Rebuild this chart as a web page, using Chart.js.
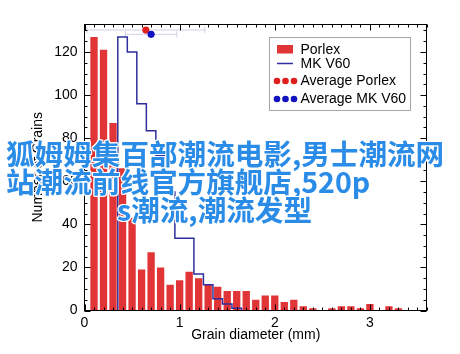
<!DOCTYPE html>
<html><head><meta charset="utf-8">
<script src="https://cdn.jsdelivr.net/npm/chart.js@4.4.0/dist/chart.umd.min.js"></script>
<style>
html,body{margin:0;padding:0;background:#fff;}
#wrap{position:relative;width:460px;height:354px;overflow:hidden;background:#fff;}
canvas{position:absolute;left:0;top:0;}
.wm{position:absolute;white-space:nowrap;font-family:"Noto Sans CJK SC";font-weight:bold;font-size:28.6px;line-height:29px;color:#2a8ce6;
text-shadow:#fff 1px 0 0,#fff -1px 0 0,#fff 0 1px 0,#fff 0 -1px 0,#fff 1px 1px 0,#fff -1px -1px 0,#fff 1px -1px 0,#fff -1px 1px 0;}
</style></head><body>
<div id="wrap">
<canvas id="c" width="460" height="354"></canvas>
<div class="wm" style="left:6px;top:138px">狐姆姆集百部潮流电影,男士潮流网</div>
<div class="wm" style="left:6px;top:166px">站潮流前线官方旗舰店,520p</div>
<div class="wm" style="left:117px;top:194px">s潮流,潮流发型</div>
</div>
<script>
// ---- data ----
const binWidth = 0.1;
const porlexCenters = [0.1,0.2,0.3,0.4,0.5,0.6,0.7,0.8,0.9,1.0,1.1,1.2,1.3,1.4,1.5,1.6,1.7,1.8,1.9,2.0,2.1,2.2,2.3,2.4,2.5,2.6,2.7,2.8,2.9,3.0,3.1,3.2,3.3,3.4];
const porlexCounts  = [127,121,87,66,43,19,27,20,12,14,18,15,12,11,9,9,9,5,7,7,4,5,2,1,0,1,2,2,1,3,0,2,1,0];
const mkCenters = [0.4,0.5,0.6,0.7,0.8,0.9,1.0,1.1,1.2,1.3,1.4,1.5,1.6];
const mkCounts  = [127,120,96,83.5,72,55,33.5,33.5,17,12,5.5,3,1];
const avgLabels = ['Average Porlex','Average MK V60'];
const avgX   = [0.645, 0.70];
const avgY   = [130.2, 128.2];
const avgErr = [0.62, 0.27];
const xTickLabels = [0,1,2,3];
const yTickLabels = [0,20,40,60,80,100,120];
const seriesNames = ['Porlex','MK V60'];

const RED = '#e03437', NAVY = '#2e2e9c', DOTRED = '#e01e1e', DOTBLUE = '#1212c0', ERRC = '#cfd0e4';
const FONT = '"Liberation Sans", Arial, sans-serif';

function stepPoints(centers, counts, w){
  const pts = [{x: centers[0]-w/2, y: 0}];
  centers.forEach((c,i)=>{ pts.push({x:c-w/2, y:counts[i]}); pts.push({x:c+w/2, y:counts[i]}); });
  pts.push({x: centers[centers.length-1]+w/2, y: 0});
  return pts;
}

const deco = {
  id: 'deco',
  beforeDatasetsDraw(chart){
    const ctx = chart.ctx, xs = chart.scales.x, ys = chart.scales.y;
    ctx.save();
    ctx.strokeStyle = ERRC; ctx.lineWidth = 1;
    for (let i=0;i<avgX.length;i++){
      const y = ys.getPixelForValue(avgY[i]);
      const x0 = xs.getPixelForValue(avgX[i]-avgErr[i]);
      const x1 = xs.getPixelForValue(avgX[i]+avgErr[i]);
      ctx.beginPath();
      ctx.moveTo(x0, y); ctx.lineTo(x1, y);
      ctx.moveTo(x0, y-3); ctx.lineTo(x0, y+3);
      ctx.moveTo(x1, y-3); ctx.lineTo(x1, y+3);
      ctx.stroke();
    }
    ctx.restore();
  },
  afterDraw(chart){
    const ctx = chart.ctx, a = chart.chartArea, xs = chart.scales.x, ys = chart.scales.y;
    const L = Math.floor(a.left)+0.5, R = Math.floor(a.right)-0.5, T = Math.floor(a.top)+0.5, B = Math.floor(a.bottom)+0.5;
    ctx.save();
    ctx.strokeStyle = '#000'; ctx.lineWidth = 1;
    ctx.strokeRect(L, T, R-L, B-T);
    ctx.beginPath();
    for (let k=0;k<=36;k++){
      const x = Math.round(xs.getPixelForValue(k/10))+0.5;
      const len = (k%10===0) ? 6 : 3;
      ctx.moveTo(x, B); ctx.lineTo(x, B-len);
      ctx.moveTo(x, T); ctx.lineTo(x, T+len);
    }
    for (let k=0;k<=26;k++){
      const v = k*5;
      const y = Math.round(ys.getPixelForValue(v))+0.5;
      const len = (v%20===0) ? 6 : 3;
      ctx.moveTo(L, y); ctx.lineTo(L+len, y);
      ctx.moveTo(R, y); ctx.lineTo(R-len, y);
    }
    ctx.stroke();
    // legend
    const bx = 269.5, by = 37.5, bw = 141, bh = 73;
    ctx.fillStyle = '#fff'; ctx.fillRect(bx, by, bw, bh);
    ctx.strokeStyle = '#a8a8a8'; ctx.strokeRect(bx, by, bw, bh);
    ctx.font = '14px ' + FONT; ctx.textBaseline = 'middle'; ctx.textAlign = 'left';
    const rows = [49.5, 63.5, 81, 99];
    ctx.fillStyle = RED; ctx.fillRect(277, 45, 16, 8.5);
    ctx.strokeStyle = NAVY; ctx.lineWidth = 1.5;
    ctx.beginPath(); ctx.moveTo(277, rows[1]); ctx.lineTo(293, rows[1]); ctx.stroke();
    [[DOTRED, rows[2]],[DOTBLUE, rows[3]]].forEach(([c,y])=>{
      ctx.fillStyle = c;
      [277, 285.5, 294].forEach(x=>{ ctx.beginPath(); ctx.arc(x, y, 3.3, 0, Math.PI*2); ctx.fill(); });
    });
    ctx.fillStyle = '#000';
    const texts = [seriesNames[0], seriesNames[1], avgLabels[0], avgLabels[1]];
    texts.forEach((t,i)=>ctx.fillText(t, 300.5, rows[i]+0.5));
    ctx.restore();
  }
};

const tickFont = {family: FONT, size: 14};
new Chart(document.getElementById('c'), {
  type: 'bar',
  data: {
    datasets: [
      {type:'bar', label: seriesNames[0], data: porlexCenters.map((x,i)=>({x, y: porlexCounts[i]})),
       backgroundColor: RED, borderWidth: 0, barPercentage: 0.77, categoryPercentage: 1.0, order: 3},
      {type:'line', label: seriesNames[1], data: stepPoints(mkCenters, mkCounts, binWidth),
       borderColor: NAVY, borderWidth: 1.5, pointRadius: 0, fill: false, tension: 0, order: 2},
      {type:'scatter', label: avgLabels[0], data: [{x: avgX[0], y: avgY[0]}],
       backgroundColor: DOTRED, borderWidth: 0, pointRadius: 3.6, order: 1},
      {type:'scatter', label: avgLabels[1], data: [{x: avgX[1], y: avgY[1]}],
       backgroundColor: DOTBLUE, borderWidth: 0, pointRadius: 3.6, order: 0}
    ]
  },
  options: {
    responsive: false, animation: false, devicePixelRatio: 1,
    layout: {padding: {top: 24, right: 33, left: 0, bottom: 0}},
    plugins: {legend: {display: false}, tooltip: {enabled: false}},
    scales: {
      x: {type: 'linear', min: 0, max: 3.6, offset: false,
          afterFit(s){ s.height = 43.5; },
          grid: {display: false, drawTicks: false}, border: {display: false},
          ticks: {stepSize: 1, includeBounds: false, color: '#000', font: tickFont, padding: 4, maxRotation: 0,
                  callback: v => xTickLabels.includes(v) ? String(v) : ''},
          title: {display: true, text: 'Grain diameter (mm)', color: '#000', font: tickFont, padding: {top: 0, bottom: 10.6}}},
      y: {type: 'linear', min: 0, max: 133,
          afterFit(s){ s.width = 84.5; },
          grid: {display: false, drawTicks: false}, border: {display: false},
          ticks: {stepSize: 20, includeBounds: false, color: '#000', font: tickFont, padding: 7,
                  callback: v => yTickLabels.includes(v) ? String(v) : ''},
          title: {display: true, text: 'Number of Grains', color: '#000', font: tickFont, padding: {top: 29.6, bottom: 0}}}
    }
  },
  plugins: [deco]
});
</script>
</body></html>
